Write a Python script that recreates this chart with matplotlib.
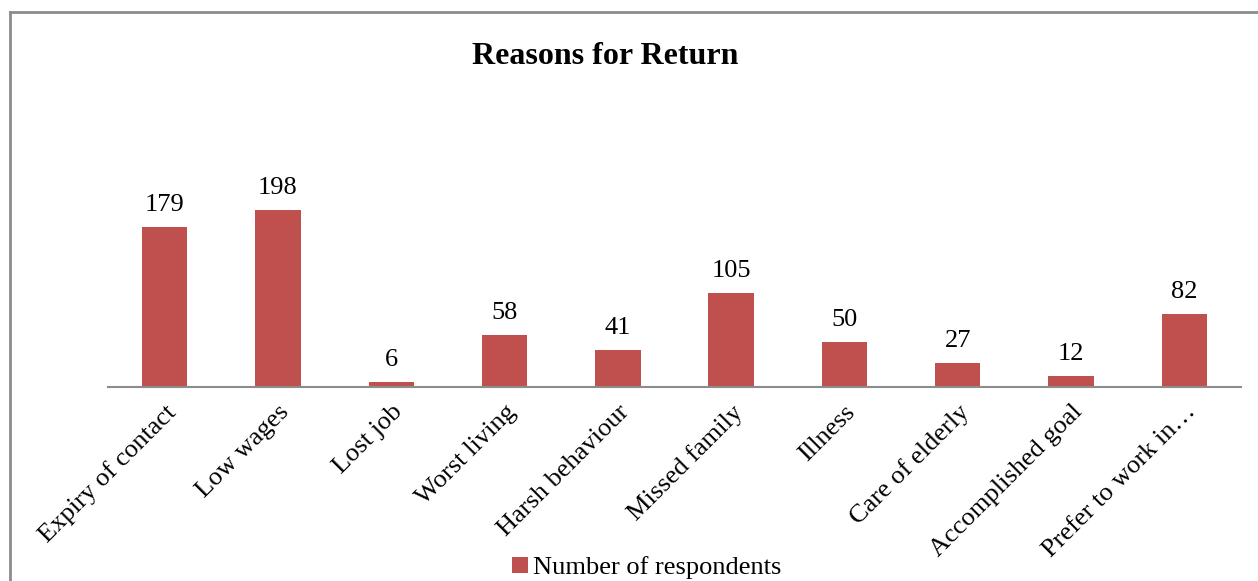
import matplotlib.pyplot as plt
from matplotlib.lines import Line2D

reasons = ['Expiry of contact', 'Low wages', 'Lost job', 'Worst living',
           'Harsh behaviour', 'Missed family', 'Illness', 'Care of elderly',
           'Accomplished goal', 'Prefer to work in\u2026']
respondents = [179, 198, 6, 58, 41, 105, 50, 27, 12, 82]

plt.rcParams['font.family'] = ['Liberation Serif', 'DejaVu Serif']

fig = plt.figure(figsize=(12.58, 5.81), dpi=100)
ax = fig.add_axes([108 / 1258, 1 - 387 / 581, 1133 / 1258, 223.5 / 581])

x = range(len(reasons))
bars = ax.bar(x, respondents, width=0.4, color='#C0504D',
              label='Number of respondents')
for b, v in zip(bars, respondents):
    ax.annotate(str(v), (b.get_x() + b.get_width() / 2, v),
                xytext=(0, 8), textcoords='offset points',
                ha='center', va='bottom', fontsize=19)

ax.set_xlim(-0.5, len(reasons) - 0.5)
ax.set_ylim(0, 250)
ax.set_xticks(list(x))
ax.set_xticklabels(reasons, rotation=45, ha='right', rotation_mode='anchor',
                   fontsize=19)
ax.tick_params(axis='x', length=0, pad=10)
ax.set_yticks([])
for s in ['top', 'right', 'left']:
    ax.spines[s].set_visible(False)
ax.spines['bottom'].set_color('#8c8c8c')
ax.spines['bottom'].set_linewidth(1.5)

fig.text(605 / 1258, 1 - 56 / 581, 'Reasons for Return', ha='center',
         va='center', fontsize=23, fontweight='bold')

fig.legend(loc='lower center', bbox_to_anchor=(0.514, -0.038), frameon=False,
           fontsize=19, handlelength=0.6, handleheight=0.6, handletextpad=0.2)

# outer chart border (only left and top visible in the crop)
fig.add_artist(Line2D([10 / 1258, 10 / 1258], [0, 1 - 12 / 581],
                      transform=fig.transFigure, color='#8c8c8c', lw=2))
fig.add_artist(Line2D([10 / 1258, 1], [1 - 12 / 581, 1 - 12 / 581],
                      transform=fig.transFigure, color='#8c8c8c', lw=2))

fig.savefig('out.png', dpi=100)
